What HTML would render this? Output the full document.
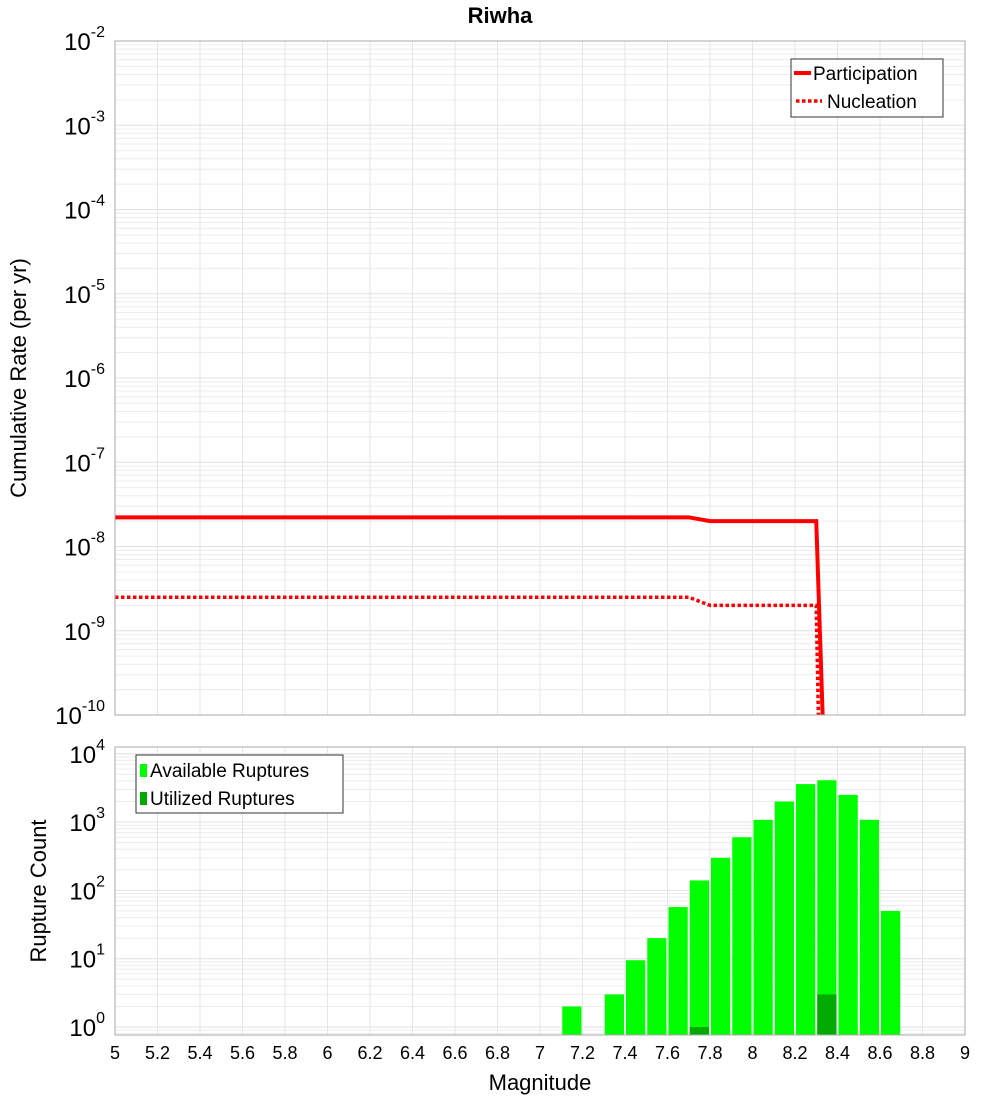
<!DOCTYPE html>
<html><head><meta charset="utf-8"><style>
body{margin:0;background:#fff;font-family:"Liberation Sans",sans-serif}
svg text{font-family:"Liberation Sans","DejaVu Sans",sans-serif}
</style></head><body>
<svg id="chart" width="1000" height="1100" xmlns="http://www.w3.org/2000/svg">
<text x="500" y="23" text-anchor="middle" font-size="22" font-weight="bold">Riwha</text>
<g id="topg"></g>
<g id="botg"></g>
<text transform="translate(26,378) rotate(-90)" text-anchor="middle" font-size="22">Cumulative Rate (per yr)</text>
<text transform="translate(46,891) rotate(-90)" text-anchor="middle" font-size="22">Rupture Count</text>
<text x="540" y="1090" text-anchor="middle" font-size="22">Magnitude</text>
</svg>
<script>
const partMags=[5,7.7,7.8,8.3,8.33];
const partRates=[2.22e-8,2.22e-8,2.0e-8,2.0e-8,1e-10];
const nuclMags=[5,7.7,7.8,8.3,8.31];
const nuclRates=[2.5e-9,2.5e-9,2.0e-9,2.0e-9,1e-10];
const binCenters=[7.15,7.35,7.45,7.55,7.65,7.75,7.85,7.95,8.05,8.15,8.25,8.35,8.45,8.55,8.65];
const availCounts=[2,3,9.5,20,57,140,300,600,1080,2000,3600,4100,2500,1080,50];
const utilCounts=[0,0,0,0,0,1,0,0,0,0,0,3,0,0,0];
const xTicks=[5,5.2,5.4,5.6,5.8,6,6.2,6.4,6.6,6.8,7,7.2,7.4,7.6,7.8,8,8.2,8.4,8.6,8.8,9];
const topExps=[-2,-3,-4,-5,-6,-7,-8,-9,-10];
const botExps=[4,3,2,1,0];

const NS='http://www.w3.org/2000/svg';
const X0=115,X1=965;
const x=m=>X0+(m-5)/4*(X1-X0);
const T0=41,T1=715;
const yT=v=>T0+(-2-Math.log10(v))*(T1-T0)/8;
const B0=747,B1=1035,BD=68.3,BZ=1027;
const yB=v=>BZ-Math.log10(v)*BD;
function el(p,t,a){const e=document.createElementNS(NS,t);for(const k in a)e.setAttribute(k,a[k]);p.appendChild(e);return e;}
const gTop=document.getElementById('topg'),gBot=document.getElementById('botg');

function grid(g,ya,yb,yf,lo,hi){
  for(let d=lo;d<hi;d++)for(let k=1;k<10;k++){const v=k*Math.pow(10,d);const yy=yf(v);if(yy<ya-0.5||yy>yb+0.5)continue;
    const l=el(g,'line',{x1:X0,x2:X1,y1:yy,y2:yy,stroke:k==1?'#e0e0e0':'#ececec','stroke-width':1});
    
    }
  xTicks.forEach(t=>{const l=el(g,'line',{x1:x(t),x2:x(t),y1:ya,y2:yb,stroke:'#e6e6e6','stroke-width':1});
    
    });
}
grid(gTop,T0,T1,yT,-10,-1);
grid(gBot,B0,B1,yB,-1,5);

function line(g,ms,rs,dash,name){
  const pts=ms.map((m,i)=>x(m)+','+Math.min(yT(rs[i]),T1+2)).join(' ');
  const p=el(g,'polyline',{points:pts,fill:'none',stroke:'#ff0000','stroke-width':dash?3.5:4,'stroke-dasharray':dash?'3.5,2.5':'none'});
  
  
}
line(gTop,partMags,partRates,false,'participation-line');
line(gTop,nuclMags,nuclRates,true,'nucleation-line');

binCenters.forEach((c,i)=>{
  const v=availCounts[i];
  const r=el(gBot,'rect',{x:x(c-0.05)+1,y:yB(v),width:x(c+0.05)-x(c-0.05)-2,height:B1-yB(v),fill:'#00ff00'});
  
  
  const u=utilCounts[i];
  if(u>0){const q=el(gBot,'rect',{x:x(c-0.05)+1,y:yB(u),width:x(c+0.05)-x(c-0.05)-2,height:B1-yB(u),fill:'#00aa00'});
    
    }
});

[[T0,T1],[B0,B1]].forEach(([a,b])=>{const r=el(document.getElementById('chart'),'rect',{x:X0,y:a,width:X1-X0,height:b-a,fill:'none',stroke:'#aaaaaa','stroke-width':1});
  
  });

function expLabel(g,yy,e,name){
  const t=el(g,'text',{x:105,y:yy+9,'text-anchor':'end','font-size':24});
  
  
  t.appendChild(document.createTextNode('10'));
  const s=el(t,'tspan',{dy:-13,'font-size':16});
  s.textContent=String(e);
}
topExps.forEach(e=>expLabel(gTop,yT(Math.pow(10,e)),e,'y-tick-rate'));
botExps.forEach(e=>expLabel(gBot,yB(Math.pow(10,e)),e,'y-tick-count'));
xTicks.forEach(t=>{const s=el(gBot,'text',{x:x(t),y:1059,'text-anchor':'middle','font-size':18});
  
  
  s.textContent=String(t);});

const lg1=el(gTop,'g',{});


el(lg1,'rect',{x:791,y:59,width:152,height:58,fill:'#fff',stroke:'#333','stroke-width':1});
el(lg1,'line',{x1:794,x2:811,y1:73,y2:73,stroke:'#f00','stroke-width':4});
el(lg1,'line',{x1:796,x2:822,y1:101,y2:101,stroke:'#f00','stroke-width':3.5,'stroke-dasharray':'3.5,2.5'});
const lt1=el(lg1,'text',{x:813,y:80,'font-size':19});lt1.textContent='Participation';


const lt2=el(lg1,'text',{x:827,y:108,'font-size':19});lt2.textContent='Nucleation';


const lg2=el(gBot,'g',{});


el(lg2,'rect',{x:136,y:755,width:207,height:58,fill:'#fff',stroke:'#333','stroke-width':1});
el(lg2,'rect',{x:140,y:764,width:7,height:13,fill:'#00ff00'});
el(lg2,'rect',{x:140,y:792,width:7,height:13,fill:'#00aa00'});
const lt3=el(lg2,'text',{x:150,y:777,'font-size':19});lt3.textContent='Available Ruptures';


const lt4=el(lg2,'text',{x:150,y:805,'font-size':19});lt4.textContent='Utilized Ruptures';


</script>
</body></html>
